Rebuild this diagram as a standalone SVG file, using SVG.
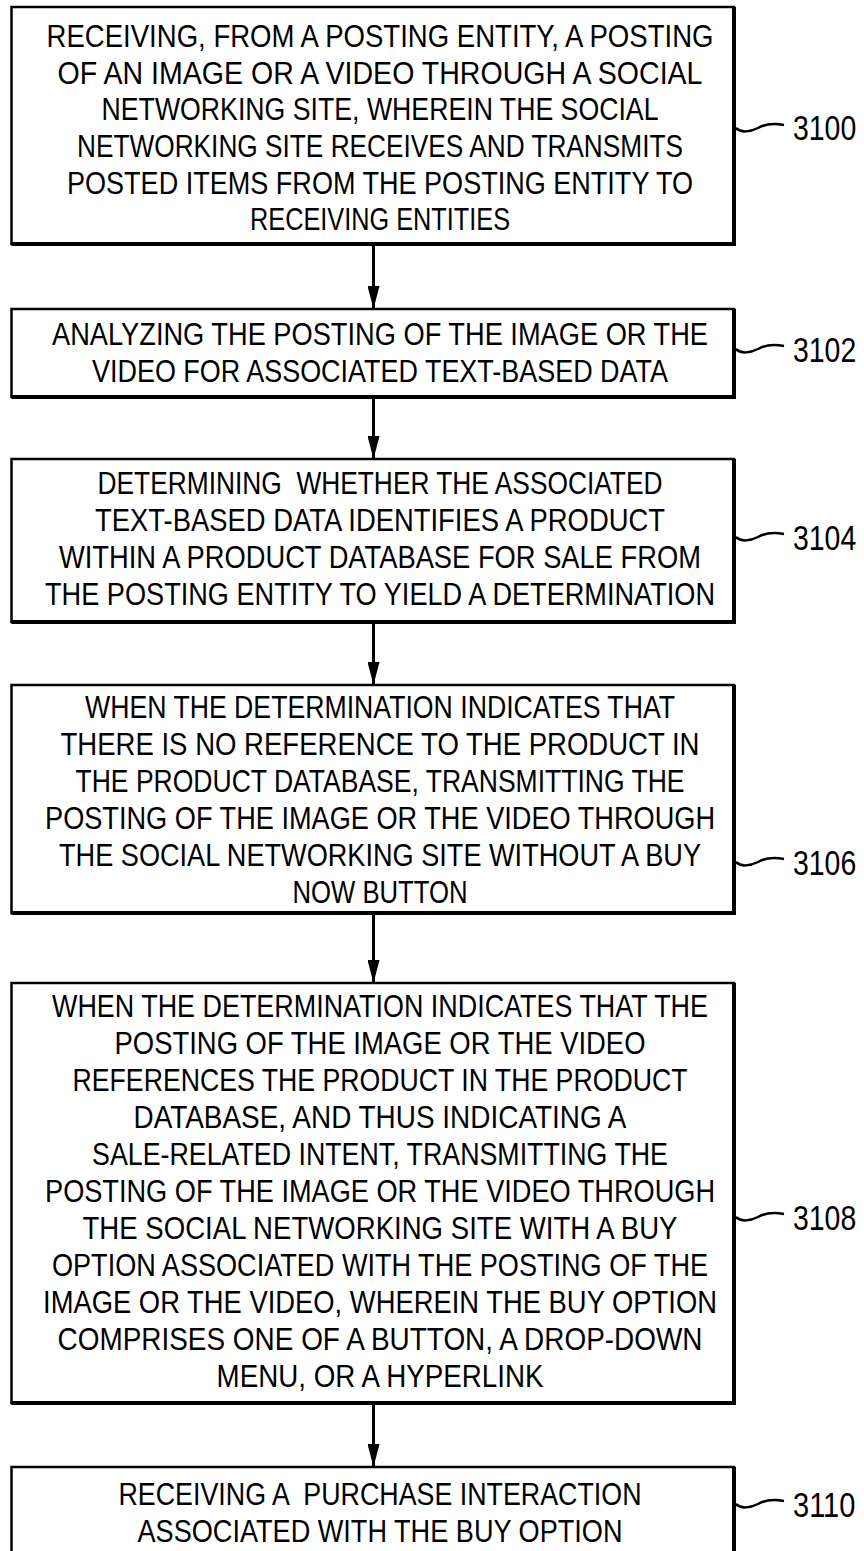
<svg xmlns="http://www.w3.org/2000/svg" width="864" height="1551" viewBox="0 0 864 1551">
<style>
.bg{fill:#fff}
.box{fill:#fff;stroke:#000;stroke-width:2.5}
.edge{fill:none;stroke:#000;stroke-width:4}
.t{font-family:'Liberation Sans',Arial,sans-serif;font-size:32px;text-anchor:middle;fill:#000}
.lbl{font-family:'Liberation Sans',Arial,sans-serif;font-size:36px;fill:#000}
.sq{fill:none;stroke:#000;stroke-width:2.5}
.conn{fill:none;stroke:#000;stroke-width:3}
</style>
<defs>
<marker id="ah" viewBox="0 0 23 12" refX="23" refY="6" markerWidth="23" markerHeight="12" markerUnits="userSpaceOnUse" orient="auto">
<path d="M0,0 L23,6 L0,12 z" fill="#000"/>
</marker>
</defs>
<rect class="bg" x="0" y="0" width="864" height="1551"/>

<g id="connectors">
<path class="conn" d="M373.5,246 V309" marker-end="url(#ah)"/>
<path class="conn" d="M373.5,399 V459" marker-end="url(#ah)"/>
<path class="conn" d="M373.5,624 V685" marker-end="url(#ah)"/>
<path class="conn" d="M373.5,915 V983" marker-end="url(#ah)"/>
<path class="conn" d="M373.5,1405 V1467" marker-end="url(#ah)"/>
</g>

<g id="n3100">
<rect class="box" x="11.5" y="7" width="722.5" height="237"/>
<path class="edge" d="M734,7 V244 H11.5"/>
<text class="t" transform="translate(380,47) scale(0.85,1)" textLength="784.7" lengthAdjust="spacingAndGlyphs">RECEIVING, FROM A POSTING ENTITY, A POSTING</text>
<text class="t" transform="translate(380,83.5) scale(0.85,1)" textLength="758.8" lengthAdjust="spacingAndGlyphs">OF AN IMAGE OR A VIDEO THROUGH A SOCIAL</text>
<text class="t" transform="translate(380,120) scale(0.85,1)" textLength="655.3" lengthAdjust="spacingAndGlyphs">NETWORKING SITE, WHEREIN THE SOCIAL</text>
<text class="t" transform="translate(380,157) scale(0.85,1)" textLength="712.9" lengthAdjust="spacingAndGlyphs">NETWORKING SITE RECEIVES AND TRANSMITS</text>
<text class="t" transform="translate(380,193.5) scale(0.85,1)" textLength="736.5" lengthAdjust="spacingAndGlyphs">POSTED ITEMS FROM THE POSTING ENTITY TO</text>
<text class="t" transform="translate(380,230) scale(0.85,1)" textLength="305.9" lengthAdjust="spacingAndGlyphs">RECEIVING ENTITIES</text>
<path class="sq" d="M736,128 C741,133 750,132 758,128 C765,124 774,123 784,125"/>
<text class="lbl" transform="translate(793,140) scale(0.8,1)" textLength="79" lengthAdjust="spacingAndGlyphs">3100</text>
</g>

<g id="n3102">
<rect class="box" x="11.5" y="309" width="722.5" height="88"/>
<path class="edge" d="M734,309 V397 H11.5"/>
<text class="t" transform="translate(380,345) scale(0.85,1)" textLength="771.8" lengthAdjust="spacingAndGlyphs">ANALYZING THE POSTING OF THE IMAGE OR THE</text>
<text class="t" transform="translate(380,382) scale(0.85,1)" textLength="677.6" lengthAdjust="spacingAndGlyphs">VIDEO FOR ASSOCIATED TEXT-BASED DATA</text>
<path class="sq" d="M736,349 C741,354 750,353 758,349 C765,345 774,344 784,346"/>
<text class="lbl" transform="translate(793,362) scale(0.8,1)" textLength="79" lengthAdjust="spacingAndGlyphs">3102</text>
</g>

<g id="n3104">
<rect class="box" x="11.5" y="459" width="722.5" height="163"/>
<path class="edge" d="M734,459 V622 H11.5"/>
<text class="t" transform="translate(380,494) scale(0.85,1)" textLength="664.7" lengthAdjust="spacingAndGlyphs" xml:space="preserve">DETERMINING  WHETHER THE ASSOCIATED</text>
<text class="t" transform="translate(380,531) scale(0.85,1)" textLength="670.6" lengthAdjust="spacingAndGlyphs">TEXT-BASED DATA IDENTIFIES A PRODUCT</text>
<text class="t" transform="translate(380,568) scale(0.85,1)" textLength="755.3" lengthAdjust="spacingAndGlyphs">WITHIN A PRODUCT DATABASE FOR SALE FROM</text>
<text class="t" transform="translate(380,605) scale(0.85,1)" textLength="788.2" lengthAdjust="spacingAndGlyphs">THE POSTING ENTITY TO YIELD A DETERMINATION</text>
<path class="sq" d="M736,537 C741,542 750,541 758,537 C765,533 774,532 784,534"/>
<text class="lbl" transform="translate(793,550) scale(0.8,1)" textLength="79" lengthAdjust="spacingAndGlyphs">3104</text>
</g>

<g id="n3106">
<rect class="box" x="11.5" y="685" width="722.5" height="228"/>
<path class="edge" d="M734,685 V913 H11.5"/>
<text class="t" transform="translate(380,718) scale(0.85,1)" textLength="694.1" lengthAdjust="spacingAndGlyphs">WHEN THE DETERMINATION INDICATES THAT</text>
<text class="t" transform="translate(380,755) scale(0.85,1)" textLength="751.8" lengthAdjust="spacingAndGlyphs">THERE IS NO REFERENCE TO THE PRODUCT IN</text>
<text class="t" transform="translate(380,792) scale(0.85,1)" textLength="716.5" lengthAdjust="spacingAndGlyphs">THE PRODUCT DATABASE, TRANSMITTING THE</text>
<text class="t" transform="translate(380,829) scale(0.85,1)" textLength="788.2" lengthAdjust="spacingAndGlyphs">POSTING OF THE IMAGE OR THE VIDEO THROUGH</text>
<text class="t" transform="translate(380,866) scale(0.85,1)" textLength="755.3" lengthAdjust="spacingAndGlyphs">THE SOCIAL NETWORKING SITE WITHOUT A BUY</text>
<text class="t" transform="translate(380,903) scale(0.85,1)" textLength="205.9" lengthAdjust="spacingAndGlyphs">NOW BUTTON</text>
<path class="sq" d="M736,862 C741,867 750,866 758,862 C765,858 774,857 784,859"/>
<text class="lbl" transform="translate(793,875) scale(0.8,1)" textLength="79" lengthAdjust="spacingAndGlyphs">3106</text>
</g>

<g id="n3108">
<rect class="box" x="11.5" y="983" width="722.5" height="420"/>
<path class="edge" d="M734,983 V1403 H11.5"/>
<text class="t" transform="translate(380,1017) scale(0.85,1)" textLength="771.8" lengthAdjust="spacingAndGlyphs">WHEN THE DETERMINATION INDICATES THAT THE</text>
<text class="t" transform="translate(380,1054) scale(0.85,1)" textLength="624.7" lengthAdjust="spacingAndGlyphs">POSTING OF THE IMAGE OR THE VIDEO</text>
<text class="t" transform="translate(380,1091) scale(0.85,1)" textLength="723.5" lengthAdjust="spacingAndGlyphs">REFERENCES THE PRODUCT IN THE PRODUCT</text>
<text class="t" transform="translate(380,1128) scale(0.85,1)" textLength="580" lengthAdjust="spacingAndGlyphs">DATABASE, AND THUS INDICATING A</text>
<text class="t" transform="translate(380,1165) scale(0.85,1)" textLength="677.6" lengthAdjust="spacingAndGlyphs">SALE-RELATED INTENT, TRANSMITTING THE</text>
<text class="t" transform="translate(380,1202) scale(0.85,1)" textLength="788.2" lengthAdjust="spacingAndGlyphs">POSTING OF THE IMAGE OR THE VIDEO THROUGH</text>
<text class="t" transform="translate(380,1239) scale(0.85,1)" textLength="700" lengthAdjust="spacingAndGlyphs">THE SOCIAL NETWORKING SITE WITH A BUY</text>
<text class="t" transform="translate(380,1276) scale(0.85,1)" textLength="771.8" lengthAdjust="spacingAndGlyphs">OPTION ASSOCIATED WITH THE POSTING OF THE</text>
<text class="t" transform="translate(380,1313) scale(0.85,1)" textLength="792.9" lengthAdjust="spacingAndGlyphs">IMAGE OR THE VIDEO, WHEREIN THE BUY OPTION</text>
<text class="t" transform="translate(380,1350) scale(0.85,1)" textLength="758.8" lengthAdjust="spacingAndGlyphs">COMPRISES ONE OF A BUTTON, A DROP-DOWN</text>
<text class="t" transform="translate(380,1387) scale(0.85,1)" textLength="384.7" lengthAdjust="spacingAndGlyphs">MENU, OR A HYPERLINK</text>
<path class="sq" d="M736,1217 C741,1222 750,1221 758,1217 C765,1213 774,1212 784,1214"/>
<text class="lbl" transform="translate(793,1230) scale(0.8,1)" textLength="79" lengthAdjust="spacingAndGlyphs">3108</text>
</g>

<g id="n3110">
<rect class="box" x="11.5" y="1467" width="722.5" height="95"/>
<path class="edge" d="M734,1467 V1562"/>
<text class="t" transform="translate(380,1505) scale(0.85,1)" textLength="615.3" lengthAdjust="spacingAndGlyphs" xml:space="preserve">RECEIVING A  PURCHASE INTERACTION</text>
<text class="t" transform="translate(380,1542) scale(0.85,1)" textLength="570.6" lengthAdjust="spacingAndGlyphs">ASSOCIATED WITH THE BUY OPTION</text>
<path class="sq" d="M736,1504 C741,1509 750,1508 758,1504 C765,1500 774,1499 784,1501"/>
<text class="lbl" transform="translate(793,1517) scale(0.8,1)" textLength="78" lengthAdjust="spacingAndGlyphs">3110</text>
</g>
</svg>
